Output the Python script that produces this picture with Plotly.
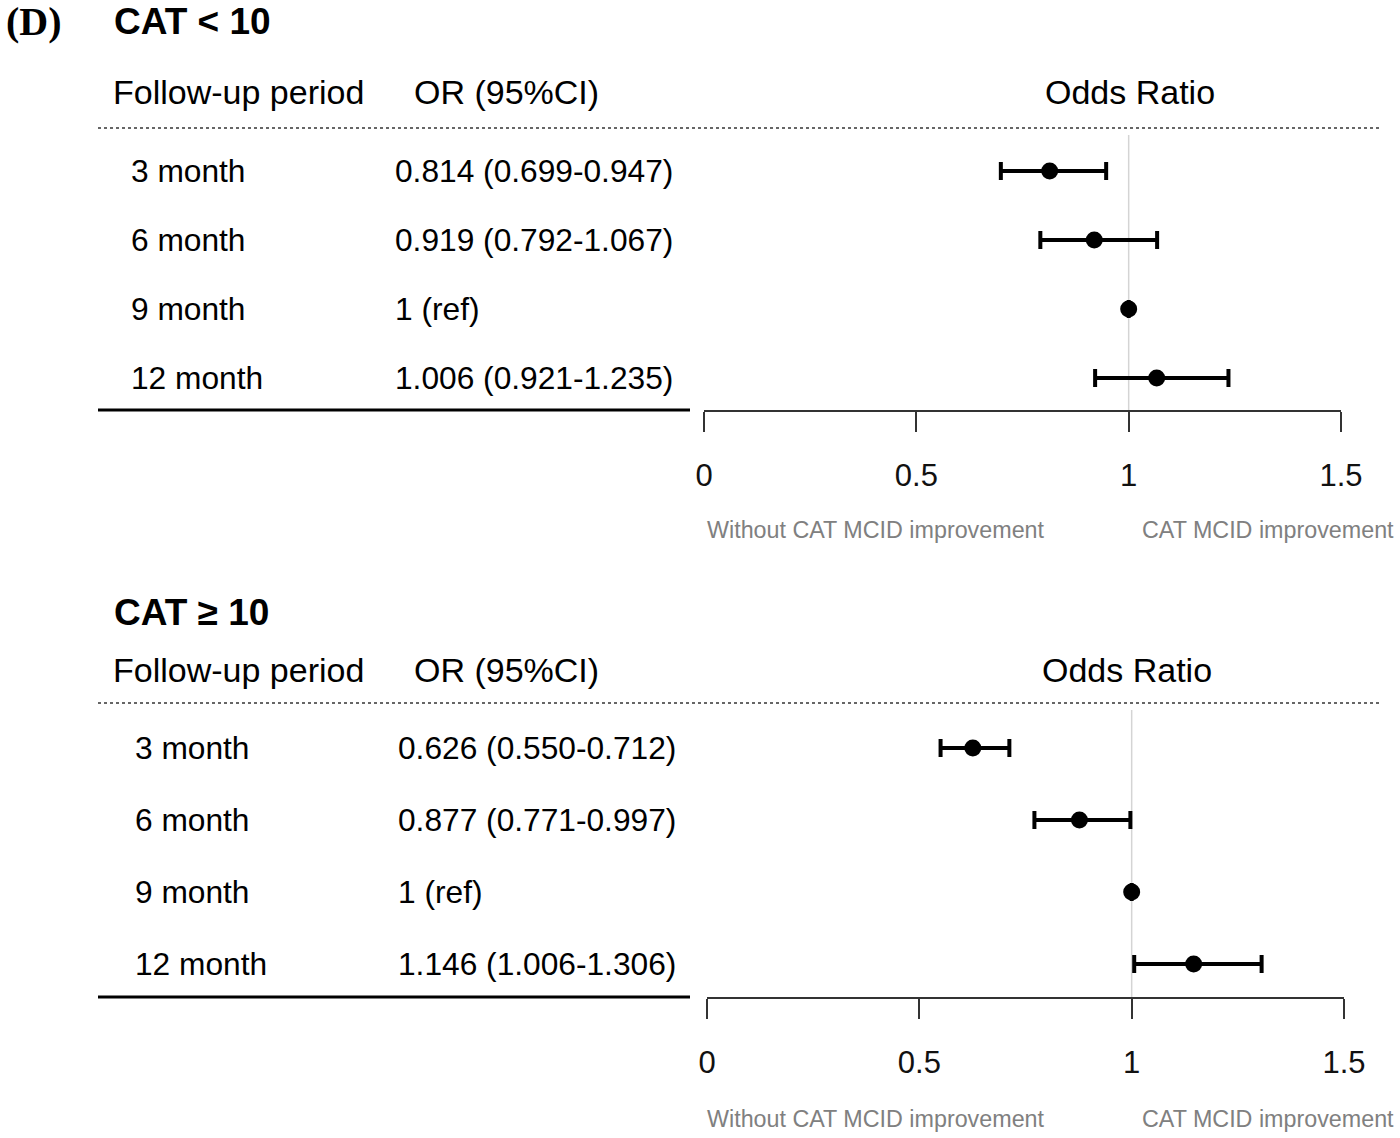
import plotly.graph_objects as go

# ── Data ──────────────────────────────────────────────────
periods = ["3 month", "6 month", "9 month", "12 month"]

# CAT < 10
or_text_low = ["0.814 (0.699-0.947)", "0.919 (0.792-1.067)", "1 (ref)", "1.006 (0.921-1.235)"]
or_low = [0.814, 0.919, 1.0, 1.066]
ci_lo_low = [0.699, 0.792, None, 0.921]
ci_hi_low = [0.947, 1.067, None, 1.235]

# CAT >= 10
or_text_high = ["0.626 (0.550-0.712)", "0.877 (0.771-0.997)", "1 (ref)", "1.146 (1.006-1.306)"]
or_high = [0.626, 0.877, 1.0, 1.146]
ci_lo_high = [0.550, 0.771, None, 1.006]
ci_hi_high = [0.712, 0.997, None, 1.306]

tick_vals = [0, 0.5, 1, 1.5]
tick_text = ["0", "0.5", "1", "1.5"]

W, H = 1400, 1138
FONT = "Liberation Sans, Arial, sans-serif"


def px(x):
    return x / W


def py(y):
    return 1 - y / H


panels = [
    dict(title="CAT < 10", title_y=22, head_y=92, dot_y=128, rows=[171, 240, 309, 378],
         base_y=410, x0=704, x1=1341, lab_x=129, or_x=393, sub_y=530,
         text=or_text_low, val=or_low, lo=ci_lo_low, hi=ci_hi_low, odds_x=1130),
    dict(title="CAT \u2265 10", title_y=612, head_y=670, dot_y=703, rows=[748, 820, 892, 964],
         base_y=997, x0=707, x1=1344, lab_x=133, or_x=396, sub_y=1119,
         text=or_text_high, val=or_high, lo=ci_lo_high, hi=ci_hi_high, odds_x=1127),
]

fig = go.Figure()
annotations = []
shapes = []


def txt(x, y, s, size, color="black", anchor="left", bold=False, family=FONT):
    annotations.append(dict(
        x=px(x), y=py(y), xref="paper", yref="paper", text=f"<b>{s}</b>" if bold else s,
        showarrow=False, xanchor=anchor, yanchor="middle",
        font=dict(size=size, color=color, family=family),
    ))


for i, p in enumerate(panels):
    sfx = "" if i == 0 else str(i + 1)
    xa, ya = "x" + sfx, "y" + sfx
    rows = p["rows"]
    step = (rows[-1] - rows[0]) / (len(rows) - 1)
    top_px = p["dot_y"] + 7
    y_top = -(rows[0] - top_px) / step
    y_bot = (len(rows) - 1) + (p["base_y"] - rows[-1]) / step

    plus = [None if h is None else h - v for v, h in zip(p["val"], p["hi"])]
    minus = [None if lo is None else v - lo for v, lo in zip(p["val"], p["lo"])]

    fig.add_trace(go.Scatter(
        x=p["val"], y=list(range(len(periods))),
        mode="markers",
        marker=dict(size=17, color="black"),
        error_x=dict(type="data", array=plus, arrayminus=minus, symmetric=False,
                     color="black", thickness=4, width=9),
        xaxis=xa, yaxis=ya, showlegend=False, hoverinfo="skip",
    ))

    fig.layout["xaxis" + sfx] = dict(
        domain=[px(p["x0"]), px(p["x1"])], range=[0, 1.5], anchor=ya,
        tickmode="array", tickvals=tick_vals, ticktext=tick_text,
        ticks="outside", ticklen=20, tickwidth=1.5, tickcolor="#333",
        showline=True, linecolor="#333", linewidth=1.5,
        showgrid=False, zeroline=False, ticklabelstandoff=17, automargin=False,
        tickfont=dict(size=31, color="#111", family=FONT),
    )
    fig.layout["yaxis" + sfx] = dict(
        domain=[py(p["base_y"]), py(top_px)], range=[y_bot, y_top],
        visible=False, anchor=xa, automargin=False,
    )

    # reference line at OR = 1
    shapes.append(dict(type="line", xref=xa, yref=ya + " domain", x0=1, x1=1, y0=0, y1=1,
                       line=dict(color="#d4d4d4", width=1.5), layer="below"))
    # dotted header rule and solid table rule
    shapes.append(dict(type="line", xref="paper", yref="paper", x0=px(98), x1=px(1380),
                       y0=py(p["dot_y"]), y1=py(p["dot_y"]),
                       line=dict(color="#666", width=2, dash="dot")))
    shapes.append(dict(type="line", xref="paper", yref="paper", x0=px(98), x1=px(690),
                       y0=py(p["base_y"]), y1=py(p["base_y"]),
                       line=dict(color="black", width=3)))

    txt(112, p["title_y"], p["title"], 37, bold=True)
    txt(111, p["head_y"], "Follow-up period", 34)
    txt(412, p["head_y"], "OR (95%CI)", 34)
    txt(p["odds_x"], p["head_y"], "Odds Ratio", 34, anchor="center")
    for r, lab, t in zip(rows, periods, p["text"]):
        txt(p["lab_x"], r, lab, 31.7)
        txt(p["or_x"], r, t, 31.7)
    txt(705, p["sub_y"], "Without CAT MCID improvement", 23.3, color="#808080")
    txt(1396, p["sub_y"], "CAT MCID improvement", 23.3, color="#808080", anchor="right")

annotations.append(dict(
    x=px(4), y=py(22), xref="paper", yref="paper", text="<b>(D)</b>",
    showarrow=False, xanchor="left", yanchor="middle",
    font=dict(size=40, color="black", family="Liberation Serif, Times New Roman, serif"),
))

fig.update_layout(
    width=W, height=H,
    margin=dict(l=0, r=0, t=0, b=0, pad=0, autoexpand=False),
    paper_bgcolor="white", plot_bgcolor="white",
    annotations=annotations, shapes=shapes,
    font=dict(family=FONT, color="black"),
)

# page without body margin so the figure sits at the window's corner
fig.write_html(
    "out.html",
    config={"displayModeBar": False},
    post_script="document.body.style.margin='0';document.body.style.overflow='hidden';",
)
